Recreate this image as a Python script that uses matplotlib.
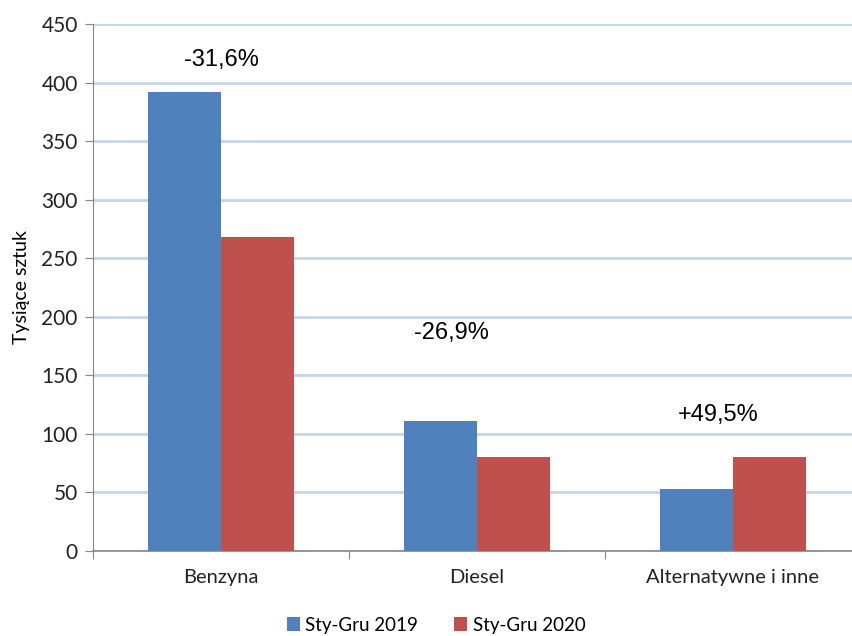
import matplotlib
matplotlib.use("Agg")
import matplotlib.pyplot as plt
import numpy as np
from matplotlib.ticker import FixedLocator, NullFormatter

categories = ["Benzyna", "Diesel", "Alternatywne i inne"]
series_names = ["Sty-Gru 2019", "Sty-Gru 2020"]
vals_2019 = [392, 111, 53]
vals_2020 = [268, 80.5, 80]
changes = ["-31,6%", "-26,9%", "+49,5%"]
change_y = [419, 186, 116]
change_x = [0.0, -0.1, -0.057]

blue = "#4f81bd"
red = "#c0504d"
grid_col = "#c5d5ee"
axis_col = "#868686"

plt.rcParams['font.family'] = ['Lato', 'DejaVu Sans']

fig = plt.figure(figsize=(8.53, 6.36), dpi=100)
ax = fig.add_axes([93 / 853, 85 / 636, 768 / 853, 527 / 636])

x = np.arange(len(categories))
w = 0.285
ax.bar(x - w / 2, vals_2019, w, color=blue, label=series_names[0], zorder=3)
ax.bar(x + w / 2, vals_2020, w, color=red, label=series_names[1], zorder=3)

for i, txt in enumerate(changes):
    ax.text(x[i] + change_x[i], change_y[i], txt, ha="center", va="center",
            fontsize=17, family="Liberation Sans", color="#000000")

ax.set_xlim(-0.5, 2.5)
ax.set_ylim(0, 450)
ax.set_yticks(np.arange(0, 451, 50))
ax.yaxis.grid(True, color=grid_col, linewidth=2)
ax.set_axisbelow(True)

# category separators as major ticks, labels centred via minor ticks
ax.xaxis.set_major_locator(FixedLocator([-0.5, 0.5, 1.5, 2.5]))
ax.xaxis.set_major_formatter(NullFormatter())
ax.xaxis.set_minor_locator(FixedLocator(x))
ax.set_xticklabels(categories, minor=True)
ax.tick_params(axis="x", which="major", length=6, color=axis_col, direction="out")
ax.tick_params(axis="x", which="minor", length=0, pad=13, labelsize=14.5, labelcolor="#222222")
ax.tick_params(axis="y", length=6, color=axis_col, labelsize=15, labelcolor="#222222", pad=5)

for s in ["top", "right"]:
    ax.spines[s].set_visible(False)
ax.spines["left"].set_color(axis_col)
ax.spines["bottom"].set_color(axis_col)
ax.spines["bottom"].set_linewidth(1.2)

ax.set_ylabel("Tysiące sztuk", fontsize=14, labelpad=8)

fig.legend(loc="center", bbox_to_anchor=(436 / 853, 1 - 625 / 636), ncol=2,
           frameon=False, fontsize=13.5, handlelength=0.7, handleheight=0.7,
           handletextpad=0.3, columnspacing=1.9)

fig.savefig("out.png", dpi=100)
